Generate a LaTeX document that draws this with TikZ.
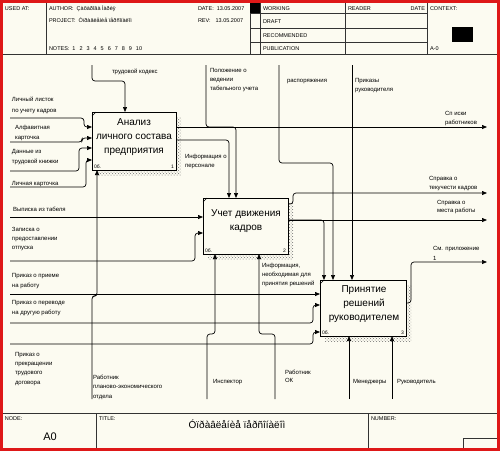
\documentclass[tikz,border=0pt]{standalone}
\usepackage{fontspec}
\setmainfont{Liberation Sans}
\usetikzlibrary{arrows.meta,patterns}
\definecolor{bg}{RGB}{252,251,241}
\definecolor{frame}{RGB}{222,24,24}
\begin{document}
\begin{tikzpicture}[x=1pt,y=-1pt,
  every node/.style={inner sep=0pt, outer sep=0pt},
  lbl/.style={anchor=base west, font=\fontsize{6}{9.5}\selectfont, align=left},
  hdr/.style={anchor=base west, font=\fontsize{5.5}{6.5}\selectfont},
  box/.style={draw, line width=0.8pt, fill=bg, anchor=north west},
  shadowbox/.style={pattern=crosshatch dots, pattern color=black!55},
  btxt/.style={font=\fontsize{10}{14}\selectfont, align=center},
  tiny/.style={font=\fontsize{5}{6}\selectfont},
  arr/.style={line width=0.7pt, rounded corners=3pt, -{Triangle[length=5pt,width=4pt]}},
  rule/.style={line width=0.7pt, black!80}
]
\useasboundingbox (0,0) rectangle (500,451);
\fill[bg] (0,0) rectangle (500,451);

% ---------- header ----------
\draw[rule] (3,54) -- (497,54);
\draw[rule] (46,3) -- (46,54);
\draw[rule] (250,3) -- (250,54);
\draw[rule] (260,3) -- (260,54);
\draw[rule] (345,3) -- (345,54);
\draw[rule] (427,3) -- (427,54);
\draw[rule] (250,13) -- (427,13);
\draw[rule] (250,28) -- (427,28);
\draw[rule] (250,42) -- (427,42);
\fill (250,3) rectangle (260,13);
\fill (452,27) rectangle (473,42);

\node[hdr] (h1) at (5,10) {USED AT:};
\node[hdr] (h2) at (49,10) {AUTHOR:\hspace{3pt}Çàõàðîâà Ìàðèÿ};
\node[hdr] (h3) at (49,22) {PROJECT:\hspace{3pt}Óïðàâëåíèå ïåðñîíàëîì};
\node[hdr] (h4) at (49,50) {NOTES:\hspace{3pt}1\hspace{4pt}2\hspace{4pt}3\hspace{4pt}4\hspace{4pt}5\hspace{4pt}6\hspace{4pt}7\hspace{4pt}8\hspace{4pt}9\hspace{4pt}10};
\node[hdr] (h5) at (198,10) {DATE:\hspace{3pt}13.05.2007};
\node[hdr] (h6) at (198,22) {REV:\hspace{5pt}13.05.2007};
\node[hdr] (h7) at (263,10) {WORKING};
\node[hdr] (h8) at (263,23) {DRAFT};
\node[hdr] (h9) at (263,37) {RECOMMENDED};
\node[hdr] (h10) at (263,50) {PUBLICATION};
\node[hdr] (h11) at (348,10) {READER};
\node[hdr, anchor=base east] (h12) at (425,10) {DATE};
\node[hdr] (h13) at (430,10) {CONTEXT:};
\node[hdr] (h14) at (430,50) {A-0};

% ---------- footer ----------
\draw[rule] (3,413) -- (497,413);
\draw[rule] (96,413) -- (96,448);
\draw[rule] (368,413) -- (368,448);
\draw[rule] (497,438) -- (463,438) -- (463,448);
\node[hdr] (f1) at (5,420) {NODE:};
\node[hdr] (f2) at (99,420) {TITLE:};
\node[hdr] (f3) at (371,420) {NUMBER:};
\node[font=\fontsize{11}{12}\selectfont] (f4) at (50,437) {A0};
\node[font=\fontsize{10}{12}\selectfont] (f5) at (237,424) {Óïðàâëåíèå ïåðñîíàëîì};

% ---------- boxes ----------
\fill[shadowbox] (97,117) rectangle (181,175);
\fill[shadowbox] (208,203) rectangle (293,259);
\fill[shadowbox] (325,285) rectangle (411,341);
\node[box, minimum width=84, minimum height=58] (b1) at (92,112) {};
\node[box, minimum width=85, minimum height=56] (b2) at (203,198) {};
\node[box, minimum width=86, minimum height=56] (b3) at (320,280) {};
\foreach \b in {b1,b2,b3}{
  \draw[line width=0.5pt] (\b.north west) ++(0,4) -- ++(4,-4);
  \node[tiny, anchor=south west, xshift=2pt, yshift=1.5pt] at (\b.south west) {0б.};
}
\node[tiny, anchor=south east, xshift=-2pt, yshift=1.5pt] (n1) at (b1.south east) {1};
\node[tiny, anchor=south east, xshift=-2pt, yshift=1.5pt] (n2) at (b2.south east) {2};
\node[tiny, anchor=south east, xshift=-2pt, yshift=1.5pt] (n3) at (b3.south east) {3};
\node[btxt] (t1) at (134,137) {Анализ\\личного состава\\предприятия};
\node[btxt] (t2) at (246,221.5) {Учет движения\\кадров};
\node[btxt] (t3) at (364,304.5) {Принятие\\решений\\руководителем};

% ---------- box 1 ----------
\coordinate (c1) at (92,65);
\draw[arr] (c1) -- (92,81) -- (125,81) -- (b1.north -| 125,0);
\coordinate (i1) at (10,118);
\coordinate (i2) at (10,142);
\coordinate (i3) at (10,171);
\coordinate (i4) at (10,187);
\draw[arr] (i1) -- (84,118) -- (84,127) -- (b1.west |- 0,127);
\draw[arr] (i2) -- (82,142) -- (82,138) -- (b1.west |- 0,138);
\draw[arr] (i3) -- (79,171) -- (79,148) -- (b1.west |- 0,148);
\draw[arr] (i4) -- (86,187) -- (86,160) -- (b1.west |- 0,160);
\coordinate (m1) at (92,399);
\draw[arr] (m1) -- (92,296) -- (97,296) -- (b1.south -| 97,0);
\coordinate (o1) at (487,127);
\draw[arr] (b1.east |- 0,127) -- (o1);
\draw[arr] (b1.east |- 0,140) -- (229,140) -- (b2.north -| 229,0);

% ---------- box 2 ----------
\coordinate (c2) at (206,65);
\draw[arr] (c2) -- (206,127) -- (236,127) -- (b2.north -| 236,0);
\coordinate (i5) at (10,217);
\coordinate (i6) at (10,261);
\draw[arr] (i5) -- (b2.west |- 0,217);
\draw[arr] (i6) -- (195,261) -- (195,233) -- (b2.west |- 0,233);
\coordinate (m2) at (207,399);
\coordinate (m3) at (275,399);
\draw[arr] (m2) -- (207,334) -- (215,334) -- (b2.south -| 215,0);
\draw[arr] (m3) -- (275,334) -- (259,334) -- (b2.south -| 259,0);
\coordinate (o2) at (487,193);
\coordinate (o3) at (487,220);
\draw[arr] (b2.east |- 0,204) -- (293,204) -- (293,193) -- (o2);
\draw[arr] (b2.east |- 0,220) -- (o3);
\draw[arr] (b2.east |- 0,220) -- (324,220) -- (b3.north -| 324,0);

% ---------- box 3 ----------
\coordinate (c3) at (279,65);
\coordinate (c4) at (352,65);
\draw[arr] (c3) -- (279,163) -- (333,163) -- (b3.north -| 333,0);
\draw[arr] (c4) -- (b3.north -| 352,0);
\coordinate (i7) at (10,294);
\coordinate (i8) at (10,323);
\coordinate (i9) at (10,344);
\draw[arr] (i7) -- (b3.west |- 0,294);
\draw[arr] (i8) -- (313,323) -- (313,305) -- (b3.west |- 0,305);
\draw[arr] (i9) -- (313,344) -- (313,332) -- (b3.west |- 0,332);
\coordinate (m4) at (349,399);
\coordinate (m5) at (392,399);
\draw[arr] (m4) -- (b3.south -| 349,0);
\draw[arr] (m5) -- (b3.south -| 392,0);
\coordinate (o4) at (487,262);
\draw[arr] (b3.east |- 0,303) -- (411,303) -- (411,262) -- (o4);

% ---------- labels (position = baseline of last line) ----------
\node[lbl] (l1) at (112,73) {трудовой кодекс};
\node[lbl, font=\fontsize{6}{11}\selectfont] (l2) at (12,112) {Личный листок\\по учету кадров};
\node[lbl, font=\fontsize{6}{10}\selectfont] (l3) at (15,139) {Алфавитная\\карточка};
\node[lbl, font=\fontsize{6}{10}\selectfont] (l4) at (12,163) {Данные из\\трудовой книжки};
\node[lbl] (l5) at (12,185) {Личная карточка};
\node[lbl, font=\fontsize{6}{9}\selectfont] (l6) at (210,90) {Положение о\\ведении\\табельного учета};
\node[lbl] (l7) at (287,82) {распоряжения};
\node[lbl, font=\fontsize{6}{9}\selectfont] (l8) at (355,91) {Приказы\\руководителя};
\node[lbl, font=\fontsize{6}{9}\selectfont] (l9) at (445,124) {Сп иски\\работников};
\node[lbl, font=\fontsize{6}{9}\selectfont] (l10) at (185,167) {Информация о\\персонале};
\node[lbl, font=\fontsize{6}{9}\selectfont] (l11) at (429,189) {Справка о\\текучести кадров};
\node[lbl, font=\fontsize{6}{8}\selectfont] (l12) at (437,212) {Справка о\\места работы};
\node[lbl, font=\fontsize{6}{10}\selectfont] (l13) at (433,260) {См. приложение\\1};
\node[lbl] (l14) at (13,211) {Выписка из табеля};
\node[lbl, font=\fontsize{6}{9}\selectfont] (l15) at (12,249) {Записка о\\предоставлении\\отпуска};
\node[lbl, font=\fontsize{6}{10}\selectfont] (l16) at (12,287) {Приказ о приеме\\на работу};
\node[lbl, font=\fontsize{6}{10}\selectfont] (l17) at (12,314) {Приказ о переводе\\на другую работу};
\node[lbl, font=\fontsize{6}{9.3}\selectfont] (l18) at (15,384) {Приказ о\\прекращении\\трудового\\договора};
\node[lbl, font=\fontsize{6}{9.5}\selectfont] (l19) at (93,398) {Работник\\планово-экономического\\отдела};
\node[lbl] (l20) at (213,383) {Инспектор};
\node[lbl, font=\fontsize{6}{7.5}\selectfont] (l21) at (285,382) {Работник\\ОК};
\node[lbl] (l22) at (353,383) {Менеджеры};
\node[lbl] (l23) at (397,383) {Руководитель};
\node[lbl, font=\fontsize{6}{9}\selectfont] (l24) at (262,285) {Информация,\\необходимая для\\принятия решений};

% ---------- red frame ----------
\draw[frame, line width=3pt] (1.5,1.5) rectangle (498.5,449.5);
\end{tikzpicture}
\end{document}
